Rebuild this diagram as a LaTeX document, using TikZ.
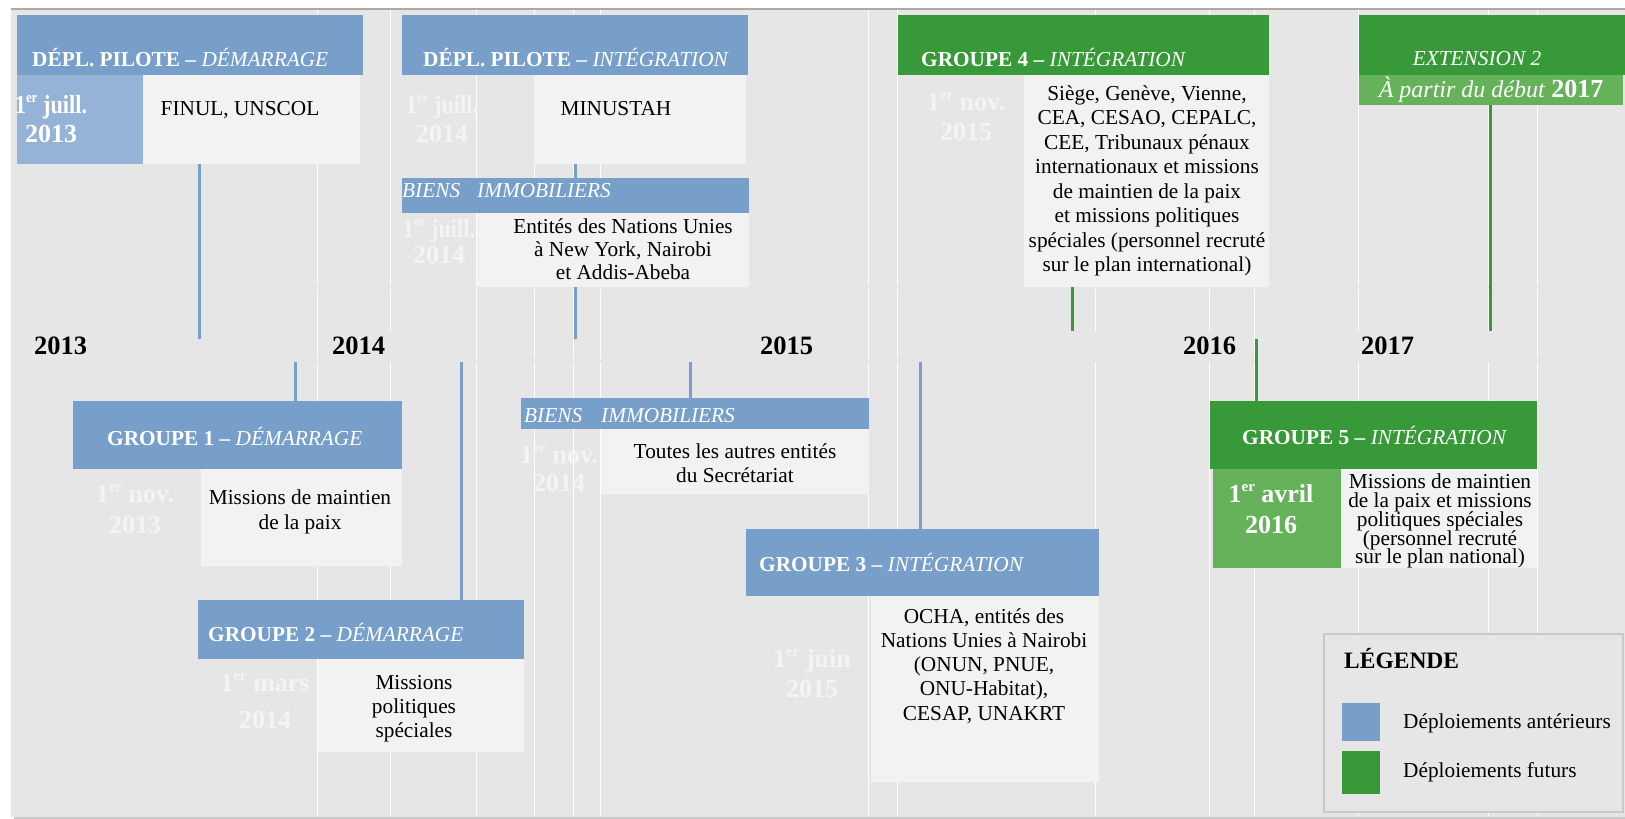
\documentclass[tikz,border=0pt]{standalone}
\usepackage{fontspec}
\setmainfont{Liberation Serif}
\usetikzlibrary{fit}
\definecolor{cblue}{HTML}{779FCA}
\definecolor{clblue}{HTML}{95B3D7}
\definecolor{cgreen}{HTML}{389939}
\definecolor{clgreen}{HTML}{65B25A}
\definecolor{cbg}{HTML}{E6E6E6}
\definecolor{ccont}{HTML}{F2F2F2}
\definecolor{cdate}{HTML}{F4F4F4}
\definecolor{ctop}{HTML}{AEA9A2}
\definecolor{cleg}{HTML}{C9C9C9}
\newcommand\ersup{\raisebox{0.4em}{\fontsize{15}{15}\selectfont er}}
\newcommand\juill{\scalebox{0.86}[1]{1\ersup{} juill.}}
\newcommand\bx[6]{\coordinate (#1-a) at (#3,#4); \coordinate (#1-b) at (#5,#6);
  \node[fill=#2, draw=none, inner sep=0pt, outer sep=0pt, fit=(#1-a)(#1-b)] (#1) {};}
\tikzset{
  hdrtxt/.style={text=white, font=\fontsize{21.3}{24}\selectfont, inner sep=0pt, anchor=base west},
  bodytxt/.style={text=black, align=center, inner sep=0pt, anchor=north,
    font=\fontsize{21.3}{#1}\selectfont},
  bodytxt/.default=24,
  datetxt/.style={text=cdate, align=center, inner sep=0pt, anchor=north,
    font=\fontsize{26}{#1}\selectfont\bfseries},
  datetxt/.default=30,
  yeartxt/.style={font=\fontsize{26.5}{30}\selectfont\bfseries, inner sep=0pt, anchor=base west},
  legtxt/.style={font=\fontsize{21.3}{24}\selectfont, inner sep=0pt, anchor=base west},
  bconn/.style={draw=cblue, line width=3pt},
  gconn/.style={draw=cgreen, line width=3pt},
  gridl/.style={draw=white, line width=1pt},
}
\begin{document}
\lineskiplimit=-50pt
\begin{tikzpicture}[x=1pt,y=-1pt]
\useasboundingbox (0,0) rectangle (1625,819);
% background
\fill[cbg] (11,10) rectangle (1625,817);
\draw[ctop, line width=2pt] (11,9) -- (1625,9);
\draw[cleg, line width=1.5pt] (14,818) -- (1625,818);
% grid lines
\foreach \gx in {317,476,534,573,600,868,897,1254,1537}{
  \draw[gridl] (\gx,10) -- (\gx,286) (\gx,288.5) -- (\gx,358.5) (\gx,361.5) -- (\gx,816);
}
\foreach \gx in {390,1095,1209,1358,1488}{
  \draw[gridl] (\gx,10) -- (\gx,286) (\gx,288.5) -- (\gx,331) (\gx,362) -- (\gx,816);
}
% ---------- boxes ----------
\bx{p1h}{cblue}{17}{15}{363}{75}
\bx{p1d}{clblue}{17}{75}{143}{164}
\bx{p1c}{ccont}{143}{75}{360}{164}
\bx{p2h}{cblue}{402}{15}{748}{75}
\bx{p2c}{ccont}{534}{75}{746}{164}
\bx{b1h}{cblue}{402}{178}{749}{213}
\bx{b1c}{ccont}{477}{213}{749}{287}
\bx{g4h}{cgreen}{898}{15}{1269}{75}
\bx{g4c}{ccont}{1024}{75}{1269}{287}
\bx{e2h}{cgreen}{1359}{15}{1625}{75}
\bx{e2s}{clgreen}{1359}{75}{1623}{105}
\bx{g1h}{cblue}{73}{401}{402}{469}
\bx{g1c}{ccont}{201}{469}{402}{566}
\bx{g2h}{cblue}{198}{600}{524}{659}
\bx{g2c}{ccont}{317.5}{659}{524}{752}
\bx{b2h}{cblue}{521}{398}{869}{429}
\bx{b2c}{ccont}{601}{429}{869}{494}
\bx{g3h}{cblue}{746}{529}{1099}{596}
\bx{g3c}{ccont}{871}{596}{1099}{782}
\bx{g5h}{cgreen}{1210}{401}{1537}{469}
\bx{g5d}{clgreen}{1213}{469}{1341}{568}
\bx{g5c}{ccont}{1341}{469}{1537}{568}
% ---------- header texts ----------
\node[hdrtxt] (p1ht) at (32,66) {\textbf{DÉPL. PILOTE –} \textit{DÉMARRAGE}};
\node[hdrtxt] (p2ht) at (423,66) {\textbf{DÉPL. PILOTE –} \textit{INTÉGRATION}};
\node[hdrtxt] (b1ht) at (402,197) {\textit{\makebox[75pt][l]{BIENS}IMMOBILIERS}};
\node[hdrtxt] (g4ht) at (921,66) {\textbf{GROUPE 4 –} \textit{INTÉGRATION}};
\node[hdrtxt, anchor=base] (e2ht) at (1477,65) {\textit{EXTENSION 2}};
\node[hdrtxt, anchor=base, font=\fontsize{24}{28}\selectfont] (e2st) at (1491,97)
  {\textit{À partir du début} {\fontsize{26}{28}\selectfont\bfseries 2017}};
\node[hdrtxt] (g1ht) at (107,445) {\textbf{GROUPE 1 –} \textit{DÉMARRAGE}};
\node[hdrtxt] (g2ht) at (208,641) {\textbf{GROUPE 2 –} \textit{DÉMARRAGE}};
\node[hdrtxt] (b2ht) at (524,422) {\textit{\makebox[77pt][l]{BIENS}IMMOBILIERS}};
\node[hdrtxt] (g3ht) at (759,571) {\textbf{GROUPE 3 –} \textit{INTÉGRATION}};
\node[hdrtxt] (g5ht) at (1242,444) {\textbf{GROUPE 5 –} \textit{INTÉGRATION}};
% ---------- dates ----------
\node[datetxt=29, text=white] (p1dt) at (51,92.7) {\strut\juill\\2013};
\node[datetxt=29] (p2dt) at (442,92.7) {\strut\juill\\2014};
\node[datetxt=26] (b1dt) at (439,218.8) {\strut\juill\\2014};
\node[datetxt=30] (g4dt) at (966,89) {\strut 1\ersup{} nov.\\2015};
\node[datetxt=31] (g1dt) at (135,480.3) {\strut 1\ersup{} nov.\\2013};
\node[datetxt=37] (g2dt) at (265,665.1) {\strut 1\ersup{} mars\\2014};
\node[datetxt=28] (b2dt) at (559,443.4) {\strut 1\ersup{} nov.\\2014};
\node[datetxt=30] (g3dt) at (812,646) {\strut 1\ersup{} juin\\2015};
\node[datetxt=31, text=white] (g5dt) at (1271,480.3) {\strut 1\ersup{} avril\\2016};
% ---------- contents ----------
\node[bodytxt, anchor=base] (p1ct) at (240,115) {FINUL, UNSCOL};
\node[bodytxt, anchor=base] (p2ct) at (616,115) {MINUSTAH};
\node[bodytxt=23] (b1ct) at (623,216.9) {\strut Entités des Nations Unies\\à New York, Nairobi\\et Addis-Abeba};
\node[bodytxt=24.5] (g4ct) at (1147,82.85) {\strut Siège, Genève, Vienne,\\CEA, CESAO, CEPALC,\\CEE, Tribunaux pénaux\\internationaux et missions\\de maintien de la paix\\et missions politiques\\spéciales (personnel recruté\\sur le plan international)};
\node[bodytxt=25] (g1ct) at (300,486.5) {\strut Missions de maintien\\de la paix};
\node[bodytxt=24] (g2ct) at (414,672.2) {\strut Missions\\politiques\\spéciales};
\node[bodytxt=24] (b2ct) at (735,441.2) {\strut Toutes les autres entités\\du Secrétariat};
\node[bodytxt=24.25] (g3ct) at (984,606) {\strut OCHA, entités des\\Nations Unies à Nairobi\\(ONUN, PNUE,\\ONU-Habitat),\\CESAP, UNAKRT};
\node[bodytxt=18.75] (g5ct) at (1440,473.9) {\strut Missions de maintien\\de la paix et missions\\politiques spéciales\\(personnel recruté\\sur le plan national)};
% ---------- years ----------
\node[yeartxt] (y13) at (34,354) {2013};
\node[yeartxt] (y14) at (332,354) {2014};
\node[yeartxt] (y15) at (760,354) {2015};
\node[yeartxt] (y16) at (1183,354) {2016};
\node[yeartxt] (y17) at (1361,354) {2017};
% ---------- connectors ----------
\coordinate (p1e) at (199,339);
\coordinate (p2e) at (575,339);
\coordinate (g1s) at (295.5,362);
\coordinate (g2s) at (461,362);
\coordinate (b2s) at (690,362);
\coordinate (g3s) at (920.6,362);
\coordinate (g4e) at (1072,331);
\coordinate (g5s) at (1256,339);
\coordinate (e2e) at (1490,331);
\draw[bconn] (p1c.south -| p1e) -- (p1e);
\draw[bconn] (p2c.south -| p2e) -- (b1h.north -| p2e);
\draw[bconn] (b1c.south -| p2e) -- (p2e);
\draw[bconn] (g1s) -- (g1s |- g1h.north);
\draw[bconn] (g2s) -- (g2s |- g2h.north);
\draw[bconn] (b2s) -- (b2s |- b2h.north);
\draw[bconn] (g3s) -- (g3s |- g3h.north);
\draw[gconn] (g4c.south -| g4e) -- (g4e);
\draw[gconn] (g5s) -- (g5s |- g5h.north);
\draw[gconn] (e2s.south -| e2e) -- (e2e);
% ---------- legend ----------
\coordinate (lg-a) at (1324,634); \coordinate (lg-b) at (1623,812);
\node[draw=cleg, line width=2.5pt, fill=cbg, inner sep=0pt, outer sep=0pt, fit=(lg-a)(lg-b)] (leg) {};
\node[inner sep=0pt, anchor=base west, font=\fontsize{23.5}{26}\selectfont\bfseries] (legt) at (1344,668) {LÉGENDE};
\bx{lgb}{cblue}{1342}{703}{1380}{741}
\bx{lgg}{cgreen}{1342}{751}{1380}{794}
\node[legtxt] (lgbt) at (1403,728) {Déploiements antérieurs};
\node[legtxt] (lggt) at (1403,777) {Déploiements futurs};
\end{tikzpicture}
\end{document}
